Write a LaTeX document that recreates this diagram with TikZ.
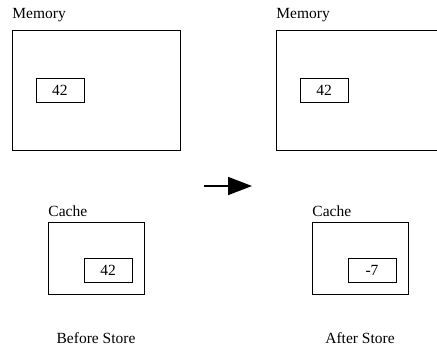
\documentclass[tikz,border=0pt]{standalone}
\usepackage{fontspec}
\setmainfont{Liberation Serif}
\usetikzlibrary{arrows.meta}
\begin{document}
\begin{tikzpicture}[x=1pt,y=-1pt,
  line width=0.9pt,
  every node/.style={font=\fontsize{15.5}{18}\selectfont},
  mem box/.style={rectangle,draw,inner sep=0pt,minimum width=168pt,minimum height=120pt},
  cache box/.style={rectangle,draw,inner sep=0pt,minimum width=96pt,minimum height=72pt},
  val box/.style={rectangle,draw,inner sep=0pt,minimum width=48pt,minimum height=24pt},
  lbl/.style={inner sep=0pt,anchor=base west}]

  \useasboundingbox (0,0) rectangle (437,348);
  \clip (0,0) rectangle (437,348);

  % before store
  \node[mem box] (mem1) at (96,90) {};
  \node[val box] (memval1) at (60,90) {42};
  \node[lbl] (memlbl1) at (12,18.5) {Memory};
  \node[cache box] (cache1) at (96,258) {};
  \node[val box] (cacheval1) at (108,270) {42};
  \node[lbl] (cachelbl1) at (48,216.5) {Cache};
  \node[inner sep=0pt,anchor=base] (title1) at (96,343) {Before Store};

  % after store
  \node[mem box] (mem2) at (360,90) {};
  \node[val box] (memval2) at (324,90) {42};
  \node[lbl] (memlbl2) at (276,18.5) {Memory};
  \node[cache box] (cache2) at (360,258) {};
  \node[val box] (cacheval2) at (372,270) {-7};
  \node[lbl] (cachelbl2) at (312,216.5) {Cache};
  \node[inner sep=0pt,anchor=base] (title2) at (360,343) {After Store};

  \coordinate (from) at (204,186);
  \coordinate (to) at (252,186);
  \draw[line width=1.7pt,-{Triangle[length=24pt,width=18pt]}] (from) -- (to);
\end{tikzpicture}
\end{document}
